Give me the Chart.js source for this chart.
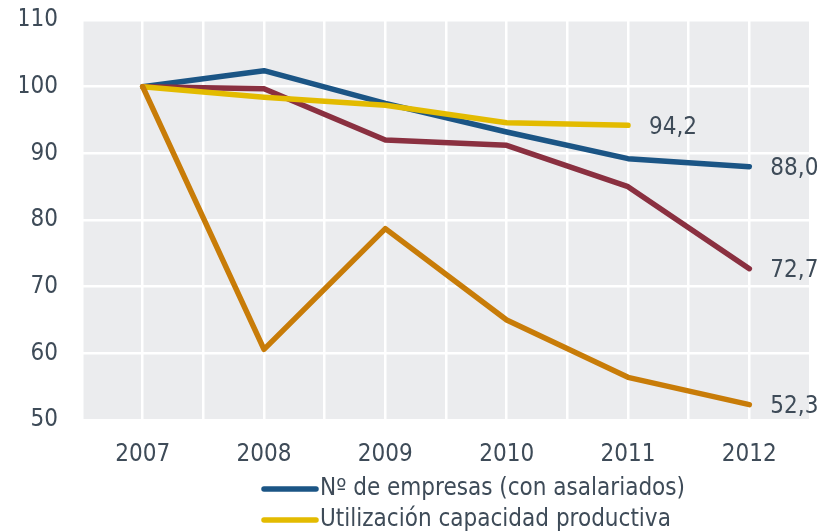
<!DOCTYPE html>
<html>
<head>
<meta charset="utf-8">
<script src="https://cdn.jsdelivr.net/npm/chart.js@4"></script>
<style>
  body { margin: 0; background: #fff; }
  #wrap { width: 825px; height: 531px; }
</style>
</head>
<body>
<div id="wrap"><canvas id="myChart"></canvas></div>
<script>
const years = ['2007', '2008', '2009', '2010', '2011', '2012'];
const seriesNames = ['Nº de empresas (con asalariados)', 'Utilización capacidad productiva', '', ''];
const empresas = [100, 102.4, 97.5, 93.2, 89.2, 88.0];
const capacidad = [100, 98.4, 97.2, 94.6, 94.2, null];
const serieRoja = [100, 99.7, 92.0, 91.2, 85.0, 72.7];
const serieNaranja = [100, 60.6, 78.7, 65.0, 56.4, 52.3];
const yTicks = [50, 60, 70, 80, 90, 100, 110];

const colors = ['#1b5585', '#e3bb00', '#8a3040', '#c87c08'];
const textColor = '#3e4b58';
const fontFamily = "'DejaVu Sans Condensed', 'Liberation Sans Narrow', 'DejaVu Sans', sans-serif";
const fontSize = 24;

function toPoints(values) {
  return values.map((v, i) => ({ x: i, y: v }));
}

// gray plot background
const plotBg = {
  id: 'plotBg',
  beforeDraw(chart) {
    const a = chart.chartArea;
    const ctx = chart.ctx;
    ctx.save();
    ctx.fillStyle = '#ebecee';
    ctx.fillRect(a.left, a.top, a.right - a.left, a.bottom - a.top);
    ctx.restore();
  }
};

// value at the end of each line
const endLabels = {
  id: 'endLabels',
  afterDatasetsDraw(chart) {
    const ctx = chart.ctx;
    ctx.save();
    ctx.font = fontSize + 'px ' + fontFamily;
    ctx.fillStyle = textColor;
    ctx.textBaseline = 'middle';
    ctx.textAlign = 'left';
    chart.data.datasets.forEach((ds, i) => {
      const meta = chart.getDatasetMeta(i);
      let last = -1;
      ds.data.forEach((p, j) => { if (p.y !== null) last = j; });
      const el = meta.data[last];
      const txt = ds.data[last].y.toFixed(1).replace('.', ',');
      ctx.fillText(txt, el.x + 21, el.y + 2);
    });
    ctx.restore();
  }
};

// legend: stacked rows, only the first two entries show
const stackLegend = {
  id: 'stackLegend',
  afterDraw(chart) {
    const ctx = chart.ctx;
    ctx.save();
    ctx.font = fontSize + 'px ' + fontFamily;
    ctx.textBaseline = 'middle';
    ctx.lineCap = 'round';
    ctx.lineWidth = 5.5;
    for (let i = 0; i < 2; i++) {
      const y = 489 + i * 31;
      ctx.strokeStyle = colors[i];
      ctx.beginPath();
      ctx.moveTo(264, y);
      ctx.lineTo(316, y);
      ctx.stroke();
      ctx.fillStyle = textColor;
      ctx.fillText(seriesNames[i], 320, y);
    }
    ctx.restore();
  }
};

const values = [empresas, capacidad, serieRoja, serieNaranja];
const drawOrder = [3, 1, 2, 0];

const ctx = document.getElementById('myChart');
new Chart(ctx, {
  type: 'line',
  data: {
    datasets: values.map((v, i) => ({
      label: seriesNames[i],
      data: toPoints(v),
      borderColor: colors[i],
      backgroundColor: colors[i],
      borderWidth: 5.5,
      pointRadius: 0,
      tension: 0,
      borderJoinStyle: 'round',
      borderCapStyle: 'round',
      order: drawOrder[i],
      spanGaps: false
    }))
  },
  options: {
    responsive: true,
    maintainAspectRatio: false,
    animation: false,
    layout: { padding: { left: 20, right: 15, top: 20, bottom: 66 } },
    plugins: {
      legend: { display: false },
      tooltip: { enabled: false }
    },
    scales: {
      x: {
        type: 'linear',
        min: -0.5,
        max: 5.5,
        border: { display: false },
        grid: { color: '#ffffff', lineWidth: 2.5, drawTicks: false },
        afterFit: (axis) => { axis.height = 45; axis.paddingLeft = 0; axis.paddingRight = 0; },
        ticks: {
          stepSize: 0.5,
          autoSkip: false,
          maxRotation: 0,
          padding: 20,
          color: textColor,
          font: { family: fontFamily, size: fontSize },
          callback: (v) => Number.isInteger(v) ? years[v] : ''
        }
      },
      y: {
        min: yTicks[0],
        max: yTicks[yTicks.length - 1],
        border: { display: false },
        grid: { color: '#ffffff', lineWidth: 2.5, drawTicks: false },
        afterFit: (axis) => { axis.width = 62; axis.paddingTop = 0; axis.paddingBottom = 0; },
        afterBuildTicks: (axis) => { axis.ticks = yTicks.map(v => ({ value: v })); },
        ticks: {
          padding: 24,
          color: textColor,
          font: { family: fontFamily, size: fontSize }
        }
      }
    }
  },
  plugins: [plotBg, endLabels, stackLegend]
});
</script>
</body>
</html>
